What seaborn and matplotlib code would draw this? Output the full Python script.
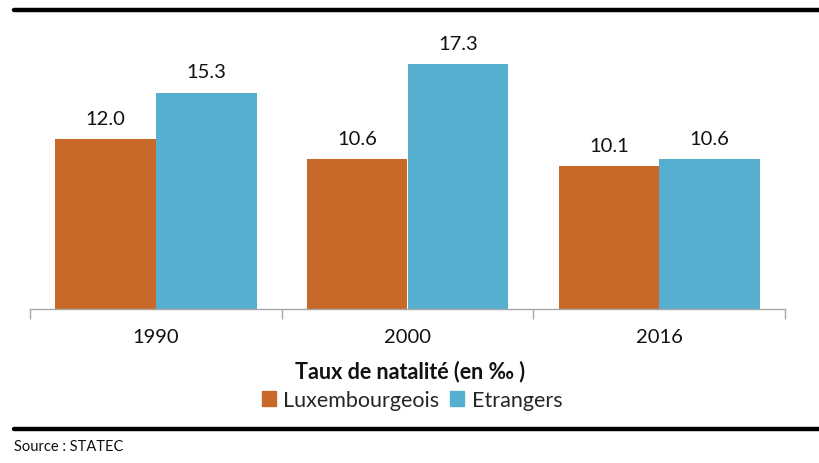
import pandas as pd
import matplotlib.pyplot as plt
import seaborn as sns
from matplotlib.lines import Line2D
from matplotlib.ticker import FixedLocator

# data
years = ["1990", "2000", "2016"]
groups = ["Luxembourgeois", "Etrangers"]
lux_rate = [12.0, 10.6, 10.1]
etr_rate = [15.3, 17.3, 10.6]

colors = {"Luxembourgeois": "#C8692A", "Etrangers": "#56AFCF"}

df = pd.DataFrame({
    "annee": years * 2,
    "groupe": [groups[0]] * 3 + [groups[1]] * 3,
    "taux": lux_rate + etr_rate,
})

sns.set_style("white")
plt.rcParams['font.family'] = ['Lato', 'DejaVu Sans']

fig = plt.figure(figsize=(8.19, 4.64), dpi=100)
ax = fig.add_axes([30 / 819, 1 - 310 / 464, 755 / 819, 283 / 464])

sns.barplot(data=df, x="annee", y="taux", hue="groupe", palette=colors,
            width=0.8, gap=0, saturation=1, linewidth=0, ax=ax, legend=False)

for cont in ax.containers:
    ax.bar_label(cont, labels=[f"{v:.1f}" for v in cont.datavalues],
                 padding=9, fontsize=14.5, color="#111111")

ax.set_ylim(0, 20)
ax.set_xlim(-0.5, 2.5)
ax.set_yticks([])
ax.set_xlabel("")
ax.set_ylabel("")
for side in ["top", "right", "left"]:
    ax.spines[side].set_visible(False)
ax.spines["bottom"].set_color("#A6A6A6")
ax.spines["bottom"].set_linewidth(1.0)

ax.tick_params(axis="x", which="both", bottom=True)
ax.tick_params(axis="x", which="major", length=0, labelsize=14.5, pad=14,
               labelcolor="#111111")
ax.xaxis.set_minor_locator(FixedLocator([-0.5, 0.5, 1.5, 2.5]))
ax.tick_params(axis="x", which="minor", length=7, color="#A6A6A6", width=1)

# axis title and legend under the chart
fig.text(410 / 819, 1 - 372 / 464, "Taux de natalité (en ‰ )", ha="center",
         va="center", fontsize=15.5, fontweight="bold", color="#111111")
handles = [plt.Rectangle((0, 0), 1, 1, color=colors[g]) for g in groups]
fig.legend(handles, groups, loc="center", bbox_to_anchor=(412 / 819, 1 - 401 / 464),
           ncol=2, frameon=False, fontsize=15.5, handlelength=0.65, handleheight=0.65,
           handletextpad=0.35, columnspacing=0.5, borderpad=0)

# black rules top and bottom
fig.add_artist(Line2D([14 / 819, 1], [1 - 11 / 464] * 2, color="black", lw=3.2))
fig.add_artist(Line2D([14 / 819, 1], [1 - 430 / 464] * 2, color="black", lw=3.2))
fig.text(14 / 819, 1 - 447 / 464, "Source : STATEC", ha="left", va="center",
         fontsize=10.5, color="#111111")

fig.savefig("out.png", dpi=100)
